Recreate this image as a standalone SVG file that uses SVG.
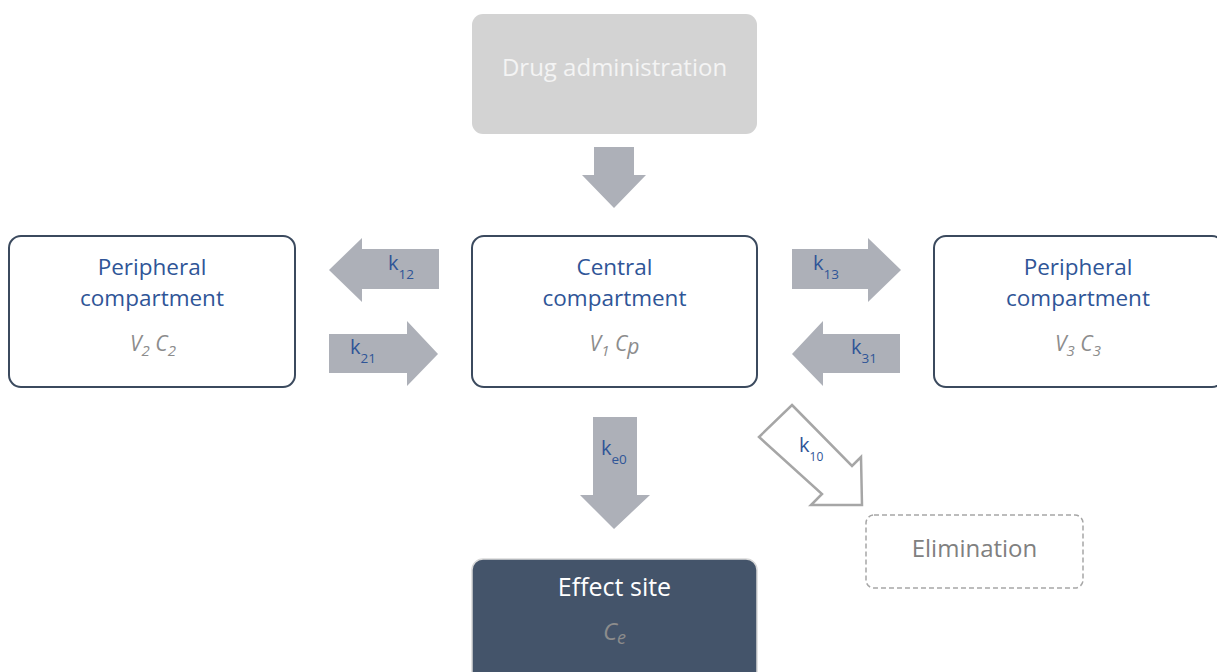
<svg xmlns="http://www.w3.org/2000/svg" width="1217" height="672" viewBox="0 0 1217 672">
<style>
text{font-family:"Open Sans","Noto Sans",sans-serif;}
.box{fill:#fff;stroke:#3b4a5e;stroke-width:2;}
.title{fill:#2f5597;font-size:22.5px;text-anchor:middle;}
.vars{fill:#8c8c8c;font-size:21px;font-style:italic;text-anchor:middle;}
.vs{font-size:15px;}
.arr{fill:#adb0b8;}
.k{fill:#2f5597;font-size:20px;}
.sub{font-size:13.5px;}
</style>
<rect width="1217" height="672" fill="#fff"/>
<g id="drug">
<rect x="472" y="14" width="285" height="120" rx="11" fill="#d3d3d3"/>
<text x="614.5" y="76" font-size="24" fill="#f4f4f4" text-anchor="middle">Drug administration</text>
</g>
<g id="periph2">
<rect class="box" x="9" y="236" width="286" height="151" rx="12"/>
<text class="title" x="152" y="275">Peripheral</text>
<text class="title" x="152" y="306">compartment</text>
<text class="vars" x="153" y="351">V<tspan class="vs" dy="5">2</tspan><tspan dy="-5"> C</tspan><tspan class="vs" dy="5">2</tspan></text>
</g>
<g id="central">
<rect class="box" x="472" y="236" width="285" height="151" rx="12"/>
<text class="title" x="614.5" y="275">Central</text>
<text class="title" x="614.5" y="306">compartment</text>
<text class="vars" x="614.5" y="351">V<tspan class="vs" dy="5">1</tspan><tspan dy="-5"> C</tspan><tspan dy="3">p</tspan></text>
</g>
<g id="periph3">
<rect class="box" x="934" y="236" width="290" height="151" rx="12"/>
<text class="title" x="1078" y="275">Peripheral</text>
<text class="title" x="1078" y="306">compartment</text>
<text class="vars" x="1078" y="351">V<tspan class="vs" dy="5">3</tspan><tspan dy="-5"> C</tspan><tspan class="vs" dy="5">3</tspan></text>
</g>
<g id="elimination">
<rect x="866" y="515" width="217" height="73" rx="8" fill="#fff" stroke="#a6a6a6" stroke-width="1.5" stroke-dasharray="5,3"/>
<text x="974.5" y="557" font-size="24" fill="#808080" text-anchor="middle">Elimination</text>
</g>
<g id="effect">
<rect x="472" y="559" width="285" height="125" rx="11" fill="#44546a" stroke="#d9d9d9" stroke-width="1.5"/>
<text x="614.5" y="596" font-size="25" fill="#fff" text-anchor="middle">Effect site</text>
<text x="614.5" y="640" font-size="24" font-style="italic" fill="#8c8c8c" text-anchor="middle">C<tspan font-size="18" dy="4">e</tspan></text>
</g>
<g id="connectors">
<polygon class="arr" points="594,147 634,147 634,175 646,175 614,208 582,175 594,175"/>
<polygon class="arr" points="439,249 362,249 362,238 329,270 362,302 362,289 439,289"/>
<text class="k" x="388" y="270">k<tspan class="sub" dy="9">12</tspan></text>
<polygon class="arr" points="329,334 407,334 407,321 438,354 407,386 407,373 329,373"/>
<text class="k" x="350" y="354">k<tspan class="sub" dy="9">21</tspan></text>
<polygon class="arr" points="792,249 868,249 868,238 901,270 868,302 868,289 792,289"/>
<text class="k" x="813" y="270">k<tspan class="sub" dy="9">13</tspan></text>
<polygon class="arr" points="900,334 823,334 823,321 792,354 823,386 823,373 900,373"/>
<text class="k" x="851" y="354">k<tspan class="sub" dy="9">31</tspan></text>
<polygon class="arr" points="593,417 637,417 637,495 650,495 614,529 580,495 593,495"/>
<text class="k" x="601" y="455">k<tspan class="sub" dy="9">e0</tspan></text>
<polygon points="792,405 852,466 861,457 862,505 811,505 822,494 759,437" fill="#fff" stroke="#a6a6a6" stroke-width="2.5" stroke-linejoin="miter"/>
<text class="k" x="799" y="452" font-size="18">k<tspan font-size="12" dy="9">10</tspan></text>
</g>
</svg>
